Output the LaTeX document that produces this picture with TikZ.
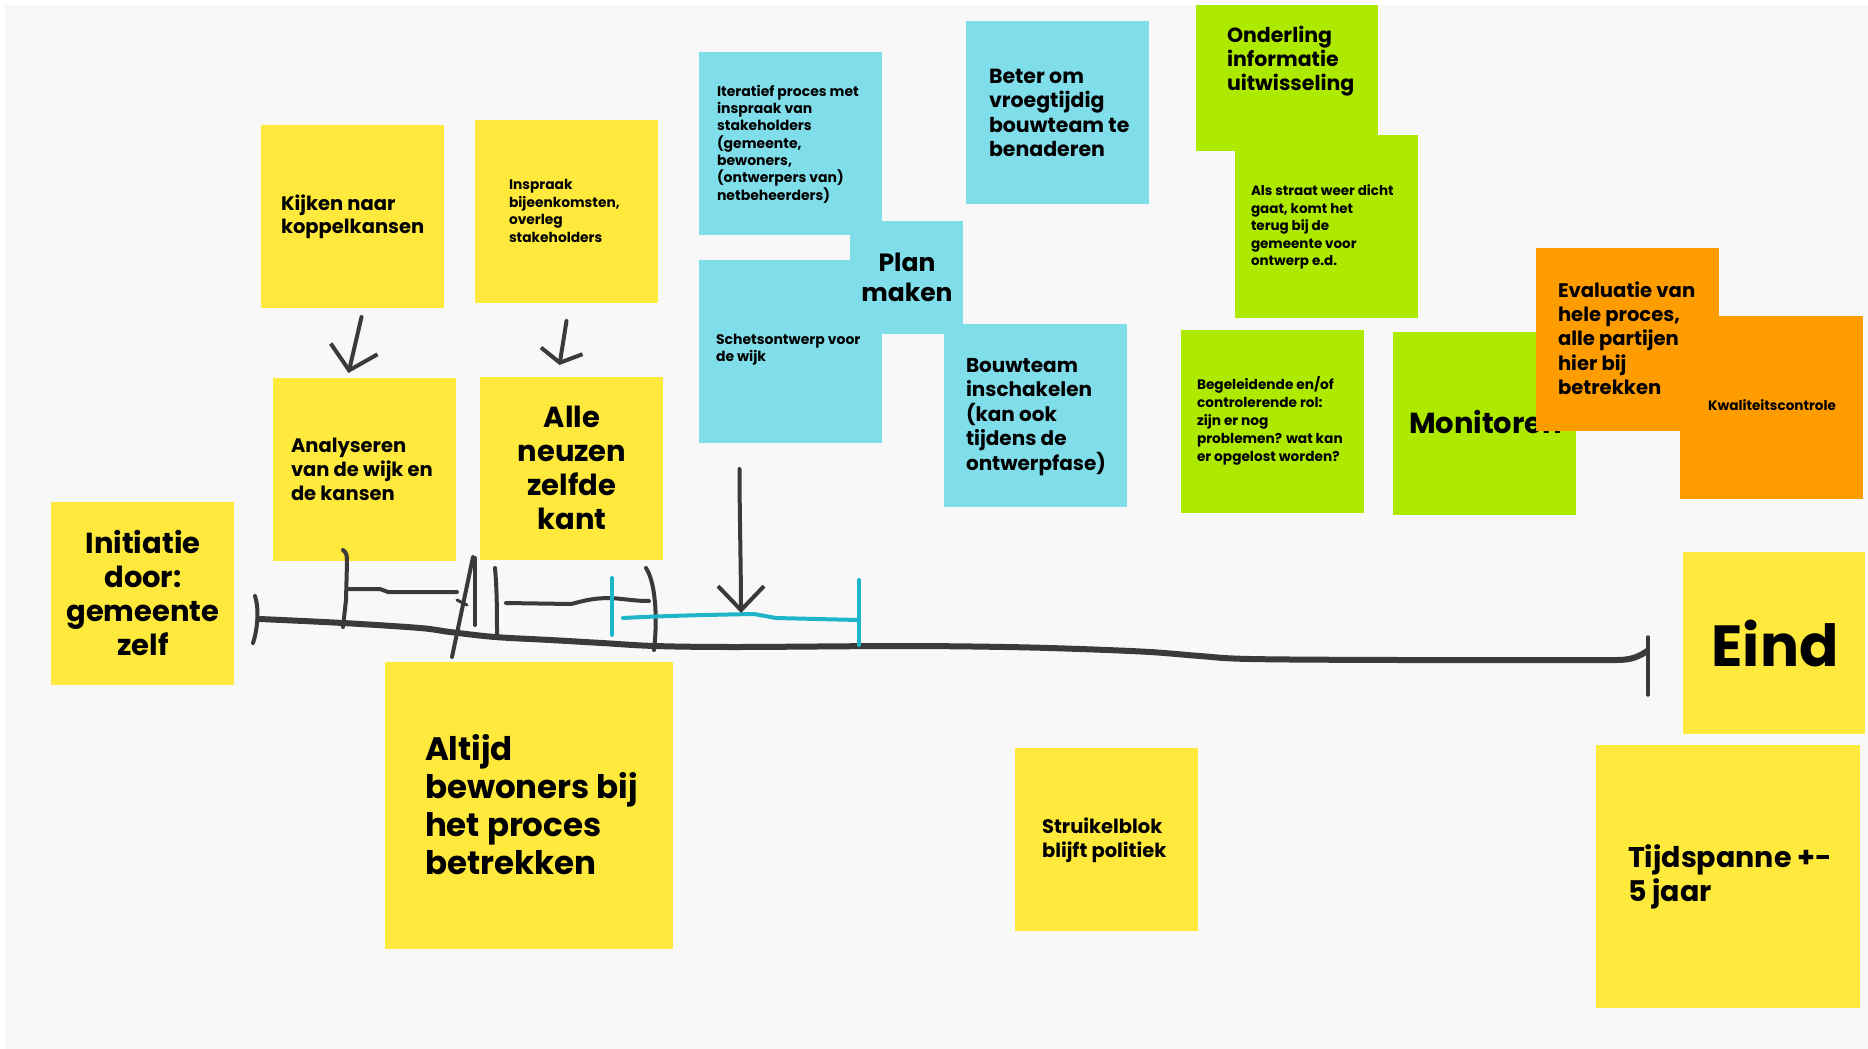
\documentclass[tikz,border=0pt]{standalone}
\usepackage{fontspec}
\setmainfont{Poppins}
\usetikzlibrary{arrows.meta}

\definecolor{paper}{HTML}{F8F8F8}
\definecolor{noteyellow}{HTML}{FFE93D}
\definecolor{notecyan}{HTML}{80DEEA}
\definecolor{notegreen}{HTML}{AEEA00}
\definecolor{noteorange}{HTML}{FF9C00}
\definecolor{ink}{HTML}{3A3A3A}
\definecolor{cyanink}{HTML}{1FB5C9}

\begin{document}
\begin{tikzpicture}[x=1pt,y=-1pt,
  sticky/.style={rectangle, draw=none, inner sep=0pt, outer sep=0pt,
    anchor=north west, minimum width=#1, minimum height=#1},
  sticky/.default=183pt,
  txt/.style={inner sep=0pt, outer sep=0pt, align=left, anchor=west, text=black},
  ctxt/.style={inner sep=0pt, outer sep=0pt, align=center, anchor=center, text=black},
  pen/.style={draw=ink, line width=4pt, line cap=round, line join=round},
  cyanpen/.style={draw=cyanink, line width=4pt, line cap=round, line join=round},
  axis/.style={draw=ink, line width=6pt, line cap=round, line join=round},
]

% canvas
\useasboundingbox (0,0) rectangle (1868,1049);
\fill[white] (0,0) rectangle (1868,1049);
\fill[paper] (5,5) rectangle (1868,1049);

% ---------- yellow notes, upper left ----------
\node[sticky, fill=noteyellow] (init) at (51,502) {};
\node[ctxt, font={\bfseries\fontsize{29}{34}\selectfont}] (t-init) at (143,593)
  {Initiatie\\door:\\gemeente\\zelf};

\node[sticky, fill=noteyellow] (kijken) at (261,125) {};
\node[txt, font={\bfseries\fontsize{19.5}{23.5}\selectfont}] (t-kijken) at (281,217)
  {Kijken naar\\koppelkansen};

\node[sticky, fill=noteyellow] (inspraak) at (475,120) {};
\node[txt, font={\bfseries\fontsize{13.8}{17.5}\selectfont}] (t-inspraak) at (509,211)
  {Inspraak\\bijeenkomsten,\\overleg\\stakeholders};

\node[sticky, fill=noteyellow] (analyse) at (273,378) {};
\node[txt, font={\bfseries\fontsize{19.5}{24}\selectfont}] (t-analyse) at (291,469)
  {Analyseren\\van de wijk en\\de kansen};

\node[sticky, fill=noteyellow] (neuzen) at (480,377) {};
\node[ctxt, font={\bfseries\fontsize{29}{34}\selectfont}] (t-neuzen) at (572,468)
  {Alle\\neuzen\\zelfde\\kant};

% ---------- cyan notes ----------
\node[sticky, fill=notecyan] (iter) at (699,52) {};
\node[txt, font={\bfseries\fontsize{14}{17.3}\selectfont}] (t-iter) at (717,144)
  {Iteratief proces met\\inspraak van\\stakeholders\\(gemeente,\\bewoners,\\(ontwerpers van)\\netbeheerders)};

\node[sticky, fill=notecyan] (schets) at (699,260) {};
\node[txt, font={\bfseries\fontsize{14}{17.3}\selectfont}] (t-schets) at (716,350)
  {Schetsontwerp voor\\de wijk};

\node[sticky, fill=notecyan, minimum width=113pt, minimum height=113pt] (plan) at (850,221) {};
\node[ctxt, font={\bfseries\fontsize{25}{30}\selectfont}] (t-plan) at (907,277)
  {Plan\\maken};

\node[sticky, fill=notecyan] (bouw) at (944,324) {};
\node[txt, font={\bfseries\fontsize{20}{24.4}\selectfont}] (t-bouw) at (966,417)
  {Bouwteam\\inschakelen\\(kan ook\\tijdens de\\ontwerpfase)};

\node[sticky, fill=notecyan] (beter) at (966,21) {};
\node[txt, font={\bfseries\fontsize{20.5}{24.5}\selectfont}] (t-beter) at (989,113)
  {Beter om\\vroegtijdig\\bouwteam te\\benaderen};

% ---------- green notes ----------
\node[sticky, fill=notegreen, minimum width=182pt, minimum height=146pt] (onder) at (1196,5) {};
\node[txt, font={\bfseries\fontsize{20.5}{24}\selectfont}] (t-onder) at (1227,61)
  {Onderling\\informatie\\uitwisseling};

\node[sticky, fill=notegreen] (straat) at (1235,135) {};
\node[txt, font={\bfseries\fontsize{13.5}{17.5}\selectfont}] (t-straat) at (1251,227)
  {Als straat weer dicht\\gaat, komt het\\terug bij de\\gemeente voor\\ontwerp e.d.};

\node[sticky, fill=notegreen] (begel) at (1181,330) {};
\node[txt, font={\bfseries\fontsize{13.7}{17.9}\selectfont}] (t-begel) at (1197,421)
  {Begeleidende en/of\\controlerende rol:\\zijn er nog\\problemen? wat kan\\er opgelost worden?};

\node[sticky, fill=notegreen] (monitor) at (1393,332) {};
\node[txt, font={\bfseries\fontsize{29}{34}\selectfont}] (t-monitor) at (1409,422)
  {Monitoren};

% ---------- orange notes ----------
\node[sticky, fill=noteorange] (eval) at (1536,248) {};
\node[txt, font={\bfseries\fontsize{19.6}{24.3}\selectfont}] (t-eval) at (1558,338)
  {Evaluatie van\\hele proces,\\alle partijen\\hier bij\\betrekken};

\node[sticky, fill=noteorange] (kwal) at (1680,316) {};
\node[ctxt, font={\bfseries\fontsize{13.6}{16}\selectfont}] (t-kwal) at (1772,405)
  {Kwaliteitscontrole};

% ---------- yellow notes, bottom and right ----------
\node[sticky, fill=noteyellow, minimum width=288pt, minimum height=287pt] (altijd) at (385,662) {};
\node[txt, font={\bfseries\fontsize{32.5}{38}\selectfont}] (t-altijd) at (425,805)
  {Altijd\\bewoners bij\\het proces\\betrekken};

\node[sticky, fill=noteyellow] (struikel) at (1015,748) {};
\node[txt, font={\bfseries\fontsize{19.5}{24}\selectfont}] (t-struikel) at (1042,840)
  {Struikelblok\\blijft politiek};

\node[sticky, fill=noteyellow, minimum width=182pt, minimum height=182pt] (eind) at (1683,552) {};
\node[ctxt, font={\bfseries\fontsize{58}{66}\selectfont}] (t-eind) at (1775,643)
  {Eind};

\node[sticky, fill=noteyellow, minimum width=264pt, minimum height=263pt] (tijd) at (1596,745) {};
\node[txt, font={\bfseries\fontsize{28.5}{34.5}\selectfont}] (t-tijd) at (1628,877)
  {Tijdspanne +-\\5 jaar};

% ---------- hand-drawn time line ----------
\draw[axis] plot[smooth, tension=0.55] coordinates {
  (260,619) (343,623) (420,628) (450,632) (495,637) (550,640) (602,643)
  (655,646) (736,647) (900,646) (1006,647) (1080,649) (1150,652)
  (1200,656) (1250,659) (1400,660) (1617,660)}
  .. controls (1632,660) and (1640,656) .. (1647,651);
\draw[pen, line width=3.5pt] (1648,637) -- (1648,695);

% start mark
\draw[pen] (255,596) .. controls (259,608) and (258,628) .. (253,643);

% first phase bracket
\draw[pen] (343,550) .. controls (347,553) and (347,556) .. (347,562)
  -- (346,600) -- (343,627);
\draw[pen] (347,589) -- (380,589) -- (388,592) -- (457,592);

% slanted mark with bar
\draw[pen] (452,657) -- (473,557);
\draw[pen] (475,558) -- (475,625);
\draw[pen, line width=3pt] (457,600) -- (467,605);

% second phase bracket
\draw[pen] (495,568) .. controls (497,590) and (497,615) .. (497,635);
\draw[pen] (506,603) -- (571,604) .. controls (580,602) and (590,598) .. (611,598)
  .. controls (625,599) and (635,601) .. (649,601);
\draw[pen] (646,568) .. controls (657,585) and (657,625) .. (654,650);

% cyan span
\draw[cyanpen] (612,578) -- (612,635);
\draw[cyanpen] (623,618) .. controls (660,616) and (700,615) .. (754,614)
  -- (776,618) -- (858,620);
\draw[cyanpen] (859,580) -- (859,645);

% ---------- arrows ----------
\coordinate (drop) at (741,613);
\draw[pen, -{Straight Barb[length=22pt, width=48pt, line width=4pt]}]
  ([xshift=9pt, yshift=-9pt]kijken.south) -- ([xshift=-16pt, yshift=5pt]analyse.north);
\draw[pen, -{Straight Barb[length=12pt, width=42pt, line width=4pt]}]
  ([yshift=-18pt]inspraak.south) -- ([xshift=-12pt, yshift=12pt]neuzen.north);
\draw[pen, -{Straight Barb[length=24pt, width=46pt, line width=4pt]}]
  ([xshift=-51pt, yshift=-26pt]schets.south) .. controls +(0,40) and +(0,-40) .. (drop);

\end{tikzpicture}
\end{document}
